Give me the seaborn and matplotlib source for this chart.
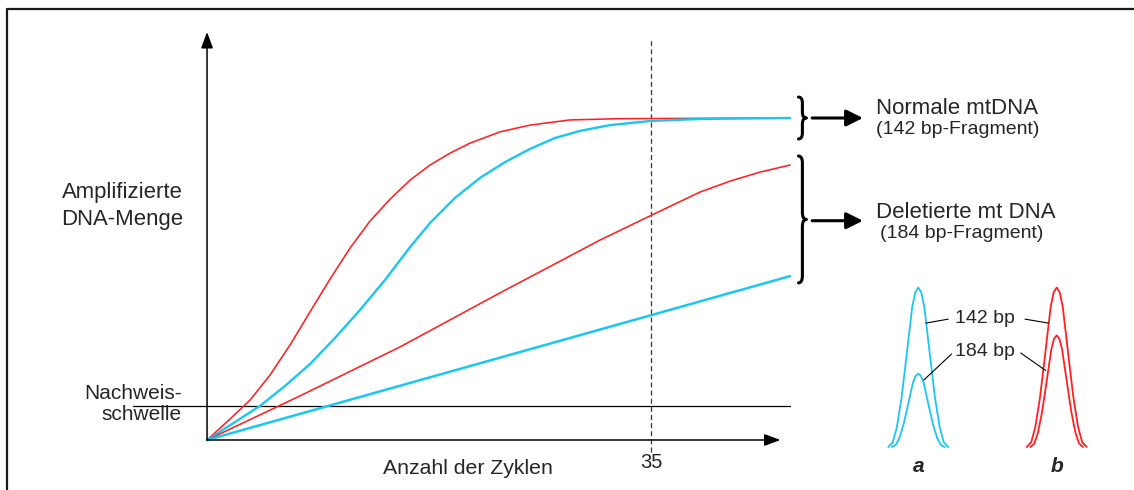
import matplotlib
matplotlib.use("Agg")
import matplotlib.pyplot as plt
from matplotlib.path import Path
from matplotlib.patches import PathPatch
from matplotlib.lines import Line2D
import pandas as pd
import seaborn as sns

# Amplification curves: PCR cycle number vs. amplified DNA amount (plateau = 100)
normal_red_cycles = [0, 1.81, 3.39, 4.97, 6.54, 8.12, 9.70, 11.27, 12.85, 14.43, 16.0, 17.58,
                     19.16, 20.73, 23.10, 25.46, 28.61, 32.56, 45.96]
normal_red_amount = [0, 6.5, 12.4, 20.2, 29.5, 39.8, 50.0, 59.6, 68.0, 74.8, 80.7, 85.4,
                     89.1, 92.2, 95.7, 97.8, 99.4, 99.8, 100]
normal_cyan_cycles = [0, 2.21, 4.18, 6.15, 8.12, 10.09, 12.06, 14.03, 16.0, 17.58, 19.55, 21.52,
                      23.49, 25.46, 27.43, 29.40, 31.77, 35.0, 38.86, 45.96]
normal_cyan_amount = [0, 5.6, 10.6, 16.8, 23.6, 31.7, 40.4, 49.7, 59.9, 67.4, 75.2, 81.4,
                      86.3, 90.4, 93.8, 96.0, 97.8, 99.1, 99.7, 100]
deleted_red_cycles = [0, 7.33, 15.21, 23.10, 30.98, 35.08, 38.86, 41.23, 43.59, 45.96]
deleted_red_amount = [0, 13.7, 28.9, 45.7, 62.1, 69.9, 77.0, 80.4, 83.2, 85.4]
deleted_cyan_cycles = [0, 45.96]
deleted_cyan_amount = [0, 50.9]

detection_threshold = 10.6
marked_cycle = 35

# Electropherogram peaks: lanes a (cyan) and b (red)
lane_names = ["a", "b"]
peak_normal_height = [100, 100]     # 142 bp fragment
peak_deleted_height = [46, 70]      # 184 bp fragment
# shared peak outline: offset from lane centre vs. relative signal
profile_offset = [0, 0.0217, 0.0434, 0.065, 0.0918, 0.1207, 0.1546, 0.1842, 0.2168]
profile_level = [1.0, 0.97, 0.88, 0.72, 0.52, 0.31, 0.125, 0.03, 0.0]

RED = "#ff2020"
CYAN = "#1cc6f2"

sns.set_style("white")
plt.rcParams["font.family"] = ["Liberation Sans", "DejaVu Sans"]

fig = plt.figure(figsize=(11.34, 4.9), dpi=100)
ax = fig.add_axes([0, 0, 1, 1])

# outer frame (open to the right and bottom)
fig.add_artist(Line2D([7 / 1134, 7 / 1134, 1.01], [-0.01, 1 - 9 / 490, 1 - 9 / 490],
                      transform=fig.transFigure, color="#1a1a1a", lw=1.6))

curves = [
    (normal_red_cycles, normal_red_amount, RED, 1.15),
    (normal_cyan_cycles, normal_cyan_amount, CYAN, 1.7),
    (deleted_red_cycles, deleted_red_amount, RED, 1.15),
    (deleted_cyan_cycles, deleted_cyan_amount, CYAN, 1.8),
]
for cyc, amt, col, lw in curves:
    df = pd.DataFrame({"cycles": cyc, "amount": amt})
    sns.lineplot(data=df, x="cycles", y="amount", ax=ax, color=col, lw=lw,
                 sort=False, estimator=None, zorder=3)
ax.set_xlim(-16.32, 73.07)
ax.set_ylim(-15.53, 136.65)
ax.axis("off")

# axes with arrow heads
for tip in ((0, 126.7), (45.2, 0)):
    ax.annotate("", xy=tip, xytext=(0, 0),
                arrowprops=dict(arrowstyle="-|>,head_length=0.75,head_width=0.28",
                                mutation_scale=13, lw=1.1, color="black",
                                shrinkA=0, shrinkB=0))

# detection threshold and marked cycle
ax.plot([-5.83, 45.96], [detection_threshold, detection_threshold], color="black", lw=0.9, zorder=2)
ax.plot([marked_cycle, marked_cycle], [-3.7, 124.8], color="#333333", lw=0.9,
        dashes=(4, 2.5), zorder=2)

ax.text(marked_cycle, -7.0, "35", ha="center", va="center", fontsize=14.5)
ax.text(20.57, -9.0, "Anzahl der Zyklen", ha="center", va="center", fontsize=15.3)
ax.text(-1.89, 72.7, "Amplifizierte\nDNA-Menge", ha="right", va="center",
        multialignment="right", fontsize=15.9, linespacing=1.35)
ax.text(-1.97, 11.2, "Nachweis-\nschwelle", ha="right", va="center",
        multialignment="right", fontsize=15, linespacing=1.08)


def curly_brace(x_left, x_mid, x_tip, y_top, y_bot, r):
    y_mid = (y_top + y_bot) / 2
    verts = [(x_left, y_top), (x_mid, y_top), (x_mid, y_top - r),
             (x_mid, y_mid + r), (x_mid, y_mid), (x_tip, y_mid),
             (x_mid, y_mid), (x_mid, y_mid - r),
             (x_mid, y_bot + r), (x_mid, y_bot), (x_left, y_bot)]
    codes = [Path.MOVETO, Path.CURVE3, Path.CURVE3, Path.LINETO, Path.CURVE3, Path.CURVE3,
             Path.CURVE3, Path.CURVE3, Path.LINETO, Path.CURVE3, Path.CURVE3]
    ax.add_patch(PathPatch(Path(verts, codes), fill=False, lw=2.2, color="black",
                           capstyle="round", joinstyle="round"))


curly_brace(46.62, 46.93, 47.25, 106.5, 93.5, 1.8)
curly_brace(46.62, 46.93, 47.25, 88.2, 48.8, 2.2)

for y in (100, 68.1):
    ax.annotate("", xy=(51.7, y), xytext=(47.7, y),
                arrowprops=dict(arrowstyle="-|>,head_length=0.5,head_width=0.25",
                                mutation_scale=20, lw=2.2, color="black",
                                shrinkA=0, shrinkB=0))

ax.text(52.74, 103.1, "Normale mtDNA", ha="left", va="center", fontsize=16)
ax.text(52.74, 96.3, "(142 bp-Fragment)", ha="left", va="center", fontsize=14)
ax.text(52.74, 70.8, "Deletierte mt DNA", ha="left", va="center", fontsize=16)
ax.text(53.05, 64.0, "(184 bp-Fragment)", ha="left", va="center", fontsize=14)

# electropherogram inset
pax = fig.add_axes([860 / 1134, 5 / 490, 250 / 1134, 215 / 490])
lane_colors = [CYAN, RED]
for i, (name, col) in enumerate(zip(lane_names, lane_colors)):
    for height, widen in ((peak_normal_height[i], 1.0), (peak_deleted_height[i], 0.88)):
        xs = [i - o * widen for o in profile_offset[::-1]] + [i + o * widen for o in profile_offset[1:]]
        ys = [height * v for v in profile_level[::-1]] + [height * v for v in profile_level[1:]]
        pdf = pd.DataFrame({"pos": xs, "signal": ys})
        sns.lineplot(data=pdf, x="pos", y="signal", ax=pax, color=col, lw=1.3,
                     sort=False, estimator=None)
    pax.text(i, -12.5, name, ha="center", va="center", fontsize=15,
             fontweight="bold", fontstyle="italic")

pax.text(0.482, 80.9, "142 bp", ha="center", va="center", fontsize=14)
pax.text(0.482, 59.8, "184 bp", ha="center", va="center", fontsize=14)
pax.plot([0.055, 0.216], [77.7, 80.2], color="black", lw=0.8)
pax.plot([0.771, 0.94], [80.2, 77.7], color="black", lw=0.8)
pax.plot([0.04, 0.24], [42.0, 58.3], color="black", lw=0.8)
pax.plot([0.74, 0.92], [59.0, 48.0], color="black", lw=0.8)

pax.set_xlim(-0.421, 1.385)
pax.set_ylim(-23.8, 111)
pax.axis("off")

fig.savefig("out.png", dpi=100)
